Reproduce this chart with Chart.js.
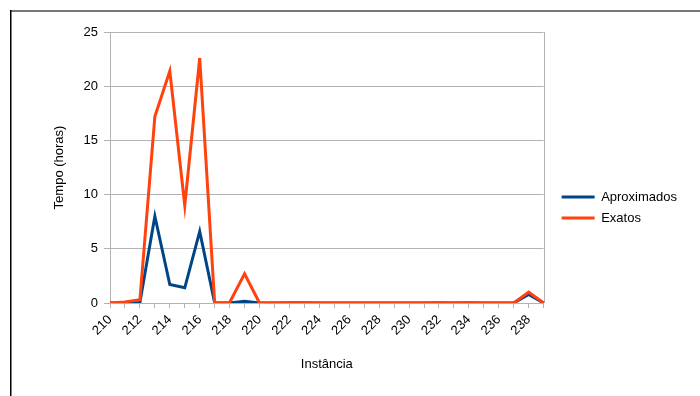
<!DOCTYPE html>
<html>
<head>
<meta charset="utf-8">
<script src="https://cdn.jsdelivr.net/npm/chart.js@4"></script>
<style>
html, body { margin: 0; padding: 0; background: #fff; }
</style>
</head>
<body>
<canvas id="tempoChart" width="700" height="396"></canvas>
<script>
var instancias = ['210','211','212','213','214','215','216','217','218','219',
                  '220','221','222','223','224','225','226','227','228','229',
                  '230','231','232','233','234','235','236','237','238','239'];
var aproximados = [0, 0, 0.05, 8.0, 1.7, 1.4, 6.6, 0, 0, 0.15,
                   0, 0, 0, 0, 0, 0, 0, 0, 0, 0,
                   0, 0, 0, 0, 0, 0, 0, 0, 0.8, 0];
var exatos = [0, 0.1, 0.3, 17.2, 21.4, 9.0, 22.6, 0, 0.05, 2.7,
              0, 0, 0.05, 0.05, 0, 0, 0, 0, 0, 0,
              0, 0, 0.05, 0, 0.05, 0, 0, 0, 1.0, 0];

// moldura em volta da figura + borda direita do grafico
var moldura = {
    id: 'moldura',
    afterLayout: function(chart) {
        // afasta a legenda um pouco do grafico
        if (chart.legend) {
            chart.legend.left += 10;
            chart.legend.right += 10;
        }
    },
    beforeDraw: function(chart) {
        var c = chart.ctx;
        c.save();
        c.fillStyle = '#fff';
        c.fillRect(0, 0, chart.width, chart.height);
        c.fillStyle = '#777';
        c.fillRect(10, 10, 690, 2);
        c.fillStyle = '#000';
        c.fillRect(10, 10, 1.5, 386);
        c.restore();
    },
    beforeDatasetsDraw: function(chart) {
        var a = chart.chartArea;
        var c = chart.ctx;
        c.save();
        c.strokeStyle = '#b3b3b3';
        c.lineWidth = 1;
        c.beginPath();
        c.moveTo(Math.round(a.right) + 0.5, a.top);
        c.lineTo(Math.round(a.right) + 0.5, a.bottom);
        c.stroke();
        c.restore();
    }
};

var ctx = document.getElementById('tempoChart').getContext('2d');
var tempoChart = new Chart(ctx, {
    type: 'line',
    data: {
        labels: instancias,
        datasets: [{
            label: 'Aproximados',
            data: aproximados,
            borderColor: '#004586',
            backgroundColor: '#004586',
            borderWidth: 3,
            pointRadius: 0,
            tension: 0,
            order: 1
        }, {
            label: 'Exatos',
            data: exatos,
            borderColor: '#ff420e',
            backgroundColor: '#ff420e',
            borderWidth: 3,
            pointRadius: 0,
            tension: 0,
            order: 0
        }]
    },
    options: {
        responsive: false,
        animation: false,
        layout: {
            padding: { top: 19, right: 23, bottom: 0, left: 0 }
        },
        plugins: {
            tooltip: { enabled: false },
            legend: {
                position: 'right',
                labels: {
                    boxWidth: 33,
                    boxHeight: 3,
                    padding: 8,
                    color: '#000',
                    font: { family: 'Liberation Sans', size: 13 },
                    sort: function(a, b) { return a.datasetIndex - b.datasetIndex; },
                    generateLabels: function(chart) {
                        var items = Chart.defaults.plugins.legend.labels.generateLabels(chart);
                        items.forEach(function(i) { i.lineWidth = 0; i.fillStyle = i.strokeStyle; });
                        return items;
                    }
                }
            }
        },
        scales: {
            x: {
                grid: { drawOnChartArea: false, color: '#b3b3b3', tickLength: 5 },
                border: { color: '#b3b3b3' },
                ticks: {
                    autoSkip: false,
                    minRotation: 45,
                    maxRotation: 45,
                    padding: 4,
                    color: '#000',
                    font: { family: 'Liberation Sans', size: 13 },
                    callback: function(v, i) { return i % 2 === 0 ? this.getLabelForValue(v) : ''; }
                },
                title: {
                    display: true,
                    text: 'Instância',
                    color: '#000',
                    font: { family: 'Liberation Sans', size: 13 },
                    padding: { top: 0, bottom: 24 }
                },
                afterFit: function(s) { s.height = 93; }
            },
            xTopo: {
                position: 'top',
                display: true,
                grid: { display: false },
                border: { display: false },
                ticks: { display: false },
                afterFit: function(s) { s.height = 13; }
            },
            y: {
                min: 0,
                max: 25,
                ticks: {
                    stepSize: 5,
                    padding: 6,
                    color: '#000',
                    font: { family: 'Liberation Sans', size: 13 }
                },
                grid: { color: '#b3b3b3', tickLength: 6 },
                border: { color: '#b3b3b3' },
                title: {
                    display: true,
                    text: 'Tempo (horas)',
                    color: '#000',
                    font: { family: 'Liberation Sans', size: 13 },
                    padding: { top: 52, bottom: 0 }
                },
                afterFit: function(s) { s.width = 110; }
            }
        }
    },
    plugins: [moldura]
});
</script>
</body>
</html>
